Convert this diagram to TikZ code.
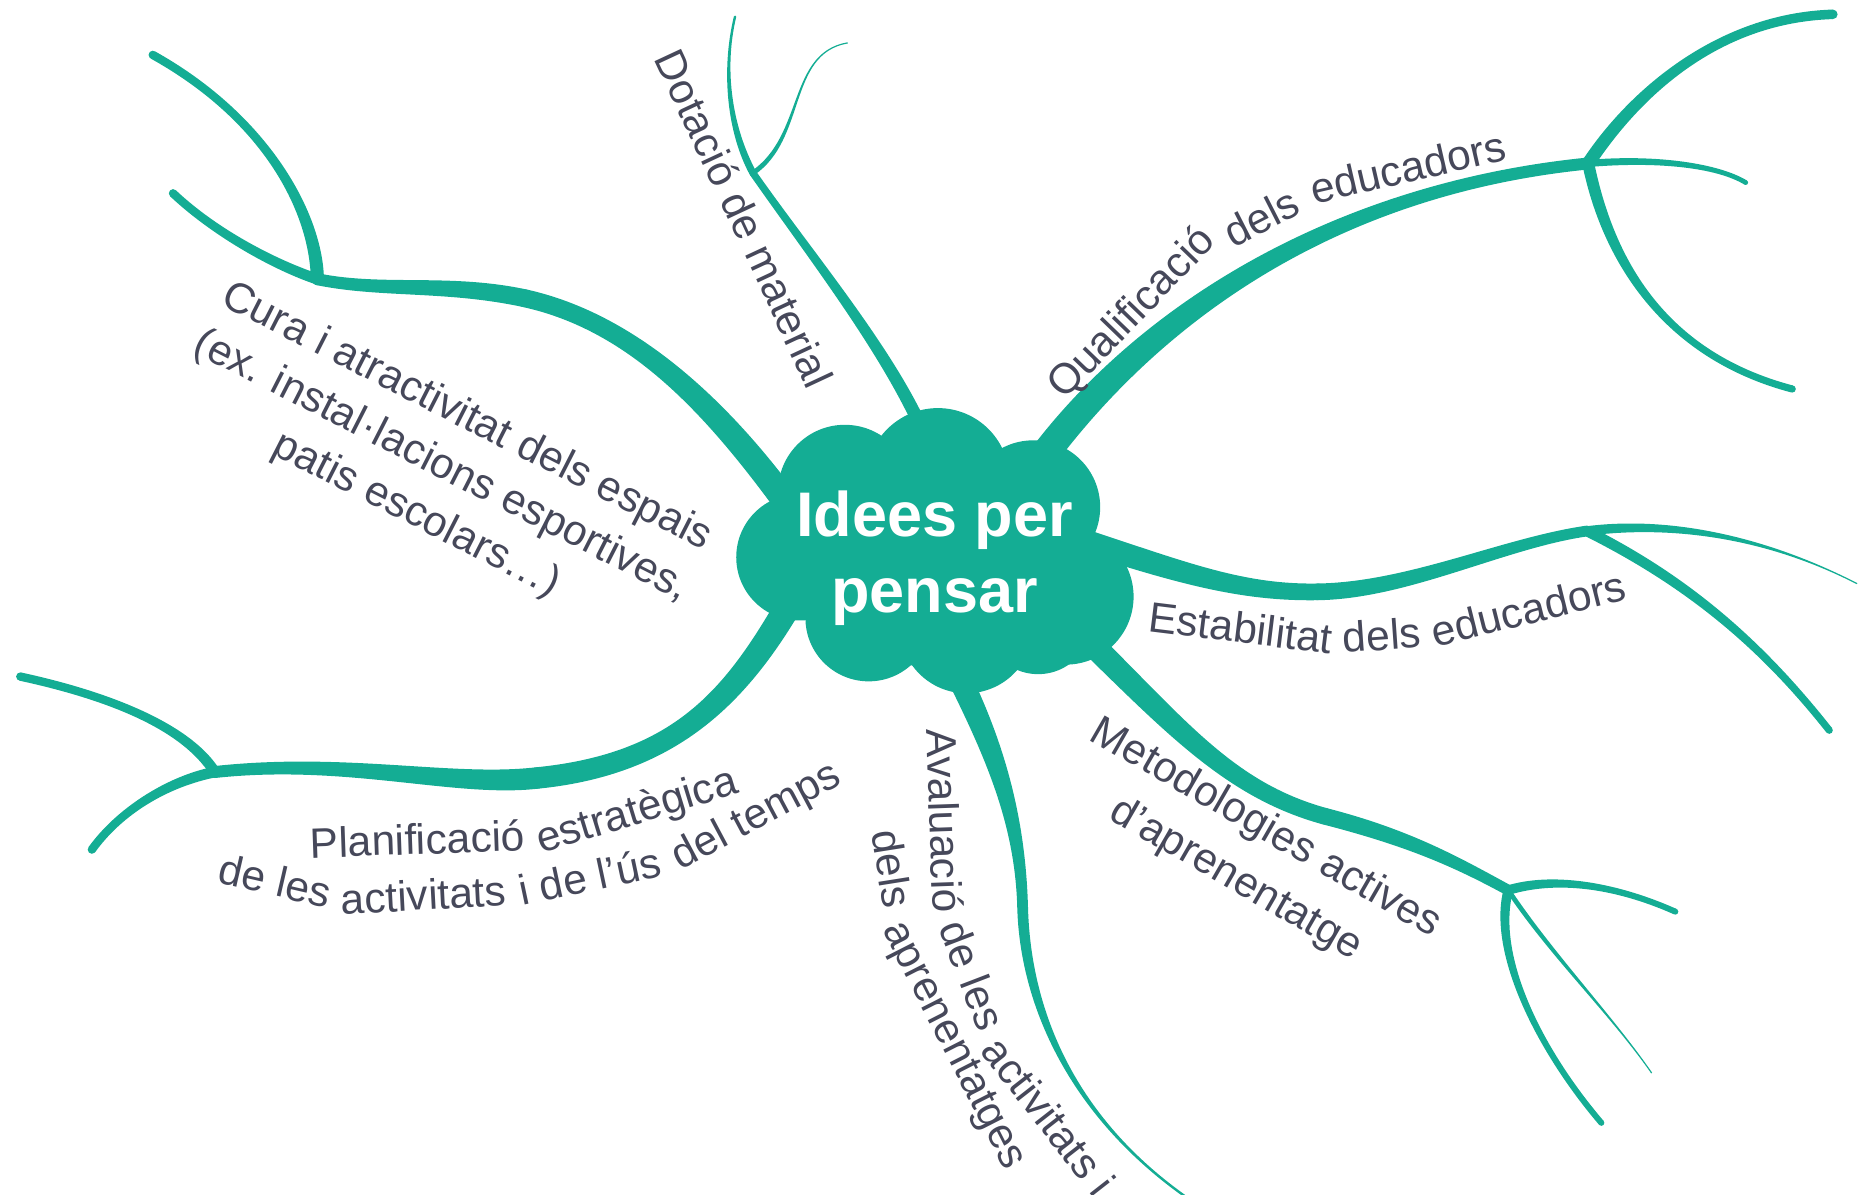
\documentclass[tikz,border=0pt]{standalone}
\usepackage{fontspec}
\setmainfont{Liberation Sans}[Ligatures=CommonOff]
\usetikzlibrary{calc}
\definecolor{mapgreen}{RGB}{20,173,148}
\definecolor{labelgray}{RGB}{70,72,90}
% half a branch width, per pixel of the picture
\newcommand{\hw}{0.5967pt}
% tapered branch: start, control, control, end, start width, end width
\newcommand{\branch}[6]{%
  \fill[mapgreen] ($(#1)!#5*\hw!90:(#2)$)
    .. controls ($(#2)!#5*\hw!-90:(#1)$) and ($(#3)!#6*\hw!90:(#4)$) .. ($(#4)!#6*\hw!-90:(#3)$)
    -- ($(#4)!#6*\hw!90:(#3)$)
    .. controls ($(#3)!#6*\hw!-90:(#4)$) and ($(#2)!#5*\hw!90:(#1)$) .. ($(#1)!#5*\hw!-90:(#2)$)
    -- cycle;
  \fill[mapgreen] (#4) circle[radius=#6*\hw];
}

\begin{document}
\begin{tikzpicture}[x=1.1933pt,y=-1.1933pt,
  lbl/.style={text=labelgray,font=\fontsize{42.5}{55}\selectfont,inner sep=0pt,align=center},
  hub/.style={text=white,font=\fontsize{63}{76}\selectfont\bfseries,inner sep=0pt,align=center}]
\useasboundingbox (0,0) rectangle (1568,1001);

% points of the branches
\coordinate (q0) at (865,395);   \coordinate (qual) at (1331,137);
\coordinate (q1) at (1536,12);   \coordinate (q2) at (1463,153);  \coordinate (q3) at (1502,326);
\coordinate (e0) at (898,450);   \coordinate (e1) at (1104,496);  \coordinate (estab) at (1330,445);
\coordinate (e2) at (1556,489);  \coordinate (e3) at (1533,612);
\coordinate (m0) at (905,530);   \coordinate (m1) at (1110,684);  \coordinate (metod) at (1264,746);
\coordinate (m2) at (1404,764);  \coordinate (m3) at (1342,941);  \coordinate (m4) at (1384,899);
\coordinate (a0) at (800,560);   \coordinate (aval) at (857,760); \coordinate (a1) at (998,1006);
\coordinate (p0) at (668,495);   \coordinate (p1) at (450,652);   \coordinate (plan) at (180,647);
\coordinate (p2) at (77,712);    \coordinate (p3) at (17,567);
\coordinate (c0) at (662,425);   \coordinate (c1) at (440,250);   \coordinate (cura) at (266,234);
\coordinate (c2) at (145,162);   \coordinate (c3) at (128,46);
\coordinate (d0) at (775,365);   \coordinate (dota) at (631,145);
\coordinate (d1) at (616,14);    \coordinate (d2) at (710,36);

% Qualificacio
\branch{q0}{960,262}{1120,158}{qual}{24}{10}
\branch{qual}{1370,78}{1440,15}{q1}{11}{8}
\branch{qual}{1390,132}{1440,139}{q2}{6}{4}
\branch{qual}{1347,215}{1392,297}{q3}{10}{6}
% Estabilitat
\branch{e0}{990,480}{1040,497}{e1}{20}{14}
\branch{e1}{1180,495}{1260,455}{estab}{14}{9}
\branch{estab}{1400,436}{1480,450}{e2}{8}{1}
\branch{estab}{1420,490}{1480,545}{e3}{9}{6}
% Metodologies
\branch{m0}{985,608}{1030,662}{m1}{20}{14}
\branch{m1}{1180,702}{1220,722}{metod}{14}{9}
\branch{metod}{1300,735}{1350,740}{m2}{8}{5}
\branch{metod}{1250,800}{1290,880}{m3}{8}{5}
\branch{metod}{1300,800}{1350,850}{m4}{4}{1}
% Avaluacio
\branch{a0}{835,630}{855,690}{aval}{20}{9}
\branch{aval}{859,840}{895,935}{a1}{9}{2}
% Planificacio
\branch{p0}{620,580}{570,640}{p1}{22}{18}
\branch{p1}{380,660}{290,635}{plan}{18}{10}
\branch{plan}{140,655}{100,680}{p2}{9}{7}
\branch{plan}{158,612}{100,585}{p3}{9}{7}
% Cura
\branch{c0}{600,340}{530,270}{c1}{22}{15}
\branch{c1}{375,236}{320,245}{cura}{15}{10}
\branch{cura}{230,222}{180,195}{c2}{9}{7}
\branch{cura}{265,180}{225,100}{c3}{11}{7}
% Dotacio
\branch{d0}{745,295}{680,215}{dota}{11}{6}
\branch{dota}{612,110}{605,60}{d1}{6}{2}
\branch{dota}{675,115}{660,45}{d2}{4}{1}

% the cloud
\fill[mapgreen] (670,467) circle[radius=53] (708,412) circle[radius=56]
  (786,402) circle[radius=60] (866,425) circle[radius=56]
  (893,500) circle[radius=57] (870,520) circle[radius=45]
  (810,525) circle[radius=56] (728,518) circle[radius=53]
  (785,465) circle[radius=95];
\node[hub] (idea) at (783,468) {Idees per\\pensar};

% labels
\node[lbl,rotate=46] (qual1) at (949,263) {Qualificació};
\node[lbl,rotate=27] (qual2) at (1057,182) {dels};
\node[lbl,rotate=13] (qual3) at (1180,140) {educadors};

\node[lbl,rotate=-7] (estab1) at (1040,526) {Estabilitat};
\node[lbl,rotate=4] (estab2) at (1158,532) {dels};
\node[lbl,rotate=14] (estab3) at (1281,510) {educadors};

\node[lbl,rotate=-30,font=\fontsize{42.5}{59}\selectfont] (metod1) at (1048,716) {Metodologies actives\\d’aprenentatge};

\node[lbl,rotate=-88] (aval1) at (792,688) {Avaluació};
\node[lbl,rotate=-69] (aval2) at (815,817) {de les};
\node[lbl,rotate=-52] (aval3) at (879,935) {activitats i};
\node[lbl,rotate=-81] (aval4) at (748,728) {dels};
\node[lbl,rotate=-63] (aval5) at (798,877) {aprenentatges};

\node[lbl,rotate=2] (plan1) at (350,703) {Planificació};
\node[lbl,rotate=17] (plan2) at (534,681) {estratègica};
\node[lbl,rotate=-13] (plan3) at (231,738) {de les};
\node[lbl,rotate=3] (plan4) at (355,750) {activitats};
\node[lbl,rotate=12] (plan5) at (494,734) {i de l’ús};
\node[lbl,rotate=28] (plan6) at (634,685) {del temps};

\node[lbl,rotate=-27] (cura1) at (370,391) {Cura i atractivitat dels espais\\(ex. instal·lacions esportives,\\patis escolars…)};

\node[lbl,rotate=-65] (dota1) at (624,183) {Dotació de material};
\end{tikzpicture}
\end{document}
